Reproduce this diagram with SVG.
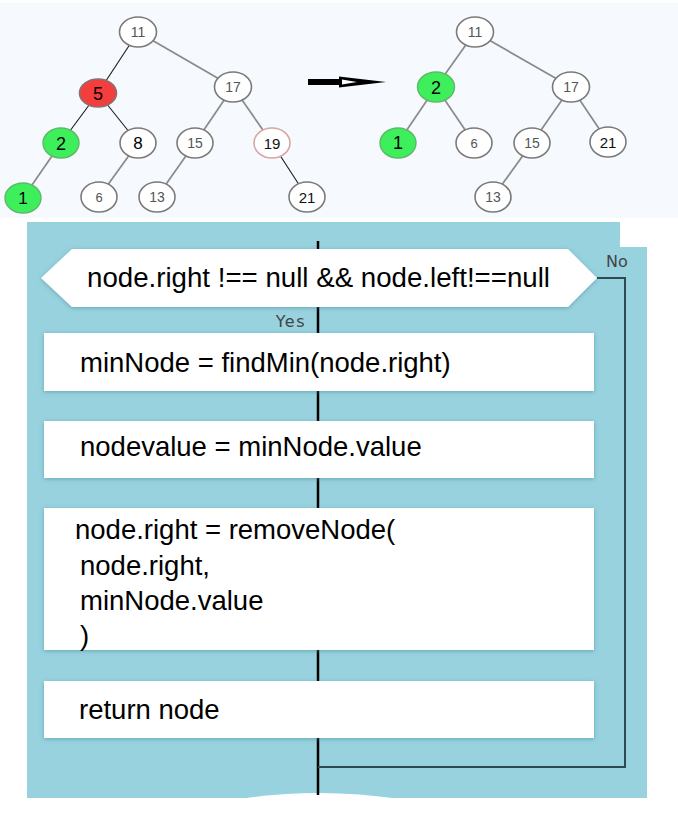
<svg xmlns="http://www.w3.org/2000/svg" width="678" height="825" viewBox="0 0 678 825">
<defs>
<filter id="sh" x="-5%" y="-20%" width="110%" height="140%">
<feDropShadow dx="0" dy="1" stdDeviation="2" flood-color="#3f7f8f" flood-opacity="0.55"/>
</filter>
</defs>
<style>
.num{font-family:"Liberation Sans",Arial,sans-serif;text-anchor:middle}
.edge-g{stroke:#8a8a8a;stroke-width:1.7;fill:none}
.edge-b{stroke:#1a1a1a;stroke-width:1.1;fill:none}
.nd{fill:#fff;stroke:#7a7a7a;stroke-width:1.6}
.green{fill:#3eef5c;stroke:#5fb86a;stroke-width:1.4}
.red{fill:#f43d3d;stroke:#8a7070;stroke-width:1.6}
.box{fill:#fff;filter:url(#sh)}
.code{font-family:"Liberation Sans",Arial,sans-serif;font-size:27.5px;fill:#000}
.lbl{font-family:"DejaVu Sans",Verdana,sans-serif;font-size:16px;fill:#444}
.main{stroke:#000;stroke-width:2.5;fill:none}
.no{stroke:#2d4a52;stroke-width:2;fill:none}
</style>
<rect x="0" y="0" width="678" height="825" fill="#ffffff"/>
<rect x="0" y="3" width="678" height="215" fill="#f6f9fd"/>
<path d="M27,222 H620 V247 H647 V798 H27 Z" fill="#98d2df"/>
<path d="M240,799 Q318,787 400,799 Z" fill="#ffffff"/>

<!-- left tree connectors -->
<g id="tree1-edges">
<line class="edge-b" x1="138" y1="32" x2="98" y2="93"/>
<line class="edge-g" x1="138" y1="32" x2="233" y2="87"/>
<line class="edge-b" x1="98" y1="93" x2="61" y2="143"/>
<line class="edge-b" x1="98" y1="93" x2="138" y2="143"/>
<line class="edge-g" x1="233" y1="87" x2="195" y2="143"/>
<line class="edge-g" x1="233" y1="87" x2="272" y2="143"/>
<line class="edge-g" x1="61" y1="143" x2="23" y2="198"/>
<line class="edge-g" x1="138" y1="143" x2="99" y2="197"/>
<line class="edge-g" x1="195" y1="143" x2="157" y2="197"/>
<line class="edge-b" x1="272" y1="143" x2="307" y2="197"/>
</g>
<g id="t1-n11"><ellipse class="nd" cx="138" cy="32" rx="18.5" ry="15"/><text class="num" x="138" y="37" font-size="14" fill="#555">11</text></g>
<g id="t1-n5"><ellipse class="red" cx="98" cy="93" rx="18.5" ry="14"/><text class="num" x="98" y="99.5" font-size="18" fill="#000">5</text></g>
<g id="t1-n17"><ellipse class="nd" cx="233" cy="87" rx="18.5" ry="15"/><text class="num" x="233" y="92" font-size="14" fill="#555">17</text></g>
<g id="t1-n2"><ellipse class="green" cx="61" cy="143" rx="18" ry="15"/><text class="num" x="61" y="149.5" font-size="18" fill="#000">2</text></g>
<g id="t1-n8"><ellipse class="nd" cx="138" cy="143" rx="18" ry="15"/><text class="num" x="138" y="149" font-size="17" fill="#000">8</text></g>
<g id="t1-n15"><ellipse class="nd" cx="195" cy="143" rx="18" ry="15"/><text class="num" x="195" y="148" font-size="14" fill="#555">15</text></g>
<g id="t1-n19"><ellipse class="nd" cx="272" cy="143" rx="18" ry="15" style="stroke:#d8a4a4"/><text class="num" x="272" y="148.5" font-size="15" fill="#111">19</text></g>
<g id="t1-n1"><ellipse class="green" cx="23" cy="198" rx="18" ry="15"/><text class="num" x="23" y="204" font-size="17" fill="#000">1</text></g>
<g id="t1-n6"><ellipse class="nd" cx="99" cy="197" rx="18" ry="15"/><text class="num" x="99" y="201.5" font-size="13" fill="#555">6</text></g>
<g id="t1-n13"><ellipse class="nd" cx="157" cy="197" rx="18" ry="15"/><text class="num" x="157" y="202" font-size="14" fill="#555">13</text></g>
<g id="t1-n21"><ellipse class="nd" cx="307" cy="197" rx="18" ry="15"/><text class="num" x="307" y="202.5" font-size="15" fill="#111">21</text></g>

<g id="arrow">
<rect x="308" y="79" width="33" height="6" fill="#000"/>
<polygon points="339,76.5 386,82 339,87.5" fill="#000"/>
<polygon points="342,79.6 357,82 342,84.4" fill="#fff"/>
</g>

<!-- right tree -->
<g id="tree2-edges">
<line class="edge-g" x1="475" y1="32" x2="436" y2="87"/>
<line class="edge-g" x1="475" y1="32" x2="571" y2="87"/>
<line class="edge-g" x1="436" y1="87" x2="398" y2="143"/>
<line class="edge-g" x1="436" y1="87" x2="474" y2="143"/>
<line class="edge-g" x1="571" y1="87" x2="532" y2="143"/>
<line class="edge-g" x1="571" y1="87" x2="608" y2="142"/>
<line class="edge-g" x1="532" y1="143" x2="493" y2="197"/>
</g>
<g id="t2-n11"><ellipse class="nd" cx="475" cy="32" rx="18.5" ry="15"/><text class="num" x="475" y="37" font-size="14" fill="#555">11</text></g>
<g id="t2-n2"><ellipse class="green" cx="436" cy="87" rx="18.5" ry="15"/><text class="num" x="436" y="93.5" font-size="18" fill="#000">2</text></g>
<g id="t2-n17"><ellipse class="nd" cx="571" cy="87" rx="18.5" ry="15"/><text class="num" x="571" y="92" font-size="14" fill="#555">17</text></g>
<g id="t2-n1"><ellipse class="green" cx="398" cy="143" rx="18" ry="15"/><text class="num" x="398" y="149" font-size="18" fill="#000">1</text></g>
<g id="t2-n6"><ellipse class="nd" cx="474" cy="143" rx="18" ry="15"/><text class="num" x="474" y="147.5" font-size="13" fill="#555">6</text></g>
<g id="t2-n15"><ellipse class="nd" cx="532" cy="143" rx="18" ry="15"/><text class="num" x="532" y="148" font-size="14" fill="#555">15</text></g>
<g id="t2-n21"><ellipse class="nd" cx="608" cy="142" rx="18" ry="15"/><text class="num" x="608" y="147.5" font-size="15" fill="#111">21</text></g>
<g id="t2-n13"><ellipse class="nd" cx="493" cy="197" rx="18" ry="15"/><text class="num" x="493" y="202" font-size="14" fill="#555">13</text></g>

<!-- flowchart connectors -->
<g id="connectors">
<line class="main" x1="318" y1="241" x2="318" y2="795"/>
<polyline class="no" points="597,278 625,278 625,767 318,767"/>
<text class="lbl" x="306" y="327" text-anchor="end" letter-spacing="1.5">Yes</text>
<text class="lbl" x="606" y="267">No</text>
</g>

<g id="decision">
<polygon class="box" points="41,278 72,249 568,249 597,278 568,307 72,307"/>
<text class="code" x="87" y="287" textLength="463" lengthAdjust="spacingAndGlyphs">node.right !== null &amp;&amp; node.left!==null</text>
</g>
<g id="step1">
<rect class="box" x="44" y="333" width="550" height="58"/>
<text class="code" x="80" y="372">minNode = findMin(node.right)</text>
</g>
<g id="step2">
<rect class="box" x="44" y="421" width="550" height="57"/>
<text class="code" x="80" y="456">nodevalue = minNode.value</text>
</g>
<g id="step3">
<rect class="box" x="44" y="508" width="550" height="142"/>
<text class="code" x="75" y="539">node.right = removeNode(</text>
<text class="code" x="80" y="575">node.right,</text>
<text class="code" x="80" y="610">minNode.value</text>
<text class="code" x="80" y="645">)</text>
</g>
<g id="step4">
<rect class="box" x="44" y="681" width="550" height="57"/>
<text class="code" x="79" y="719">return node</text>
</g>
</svg>
